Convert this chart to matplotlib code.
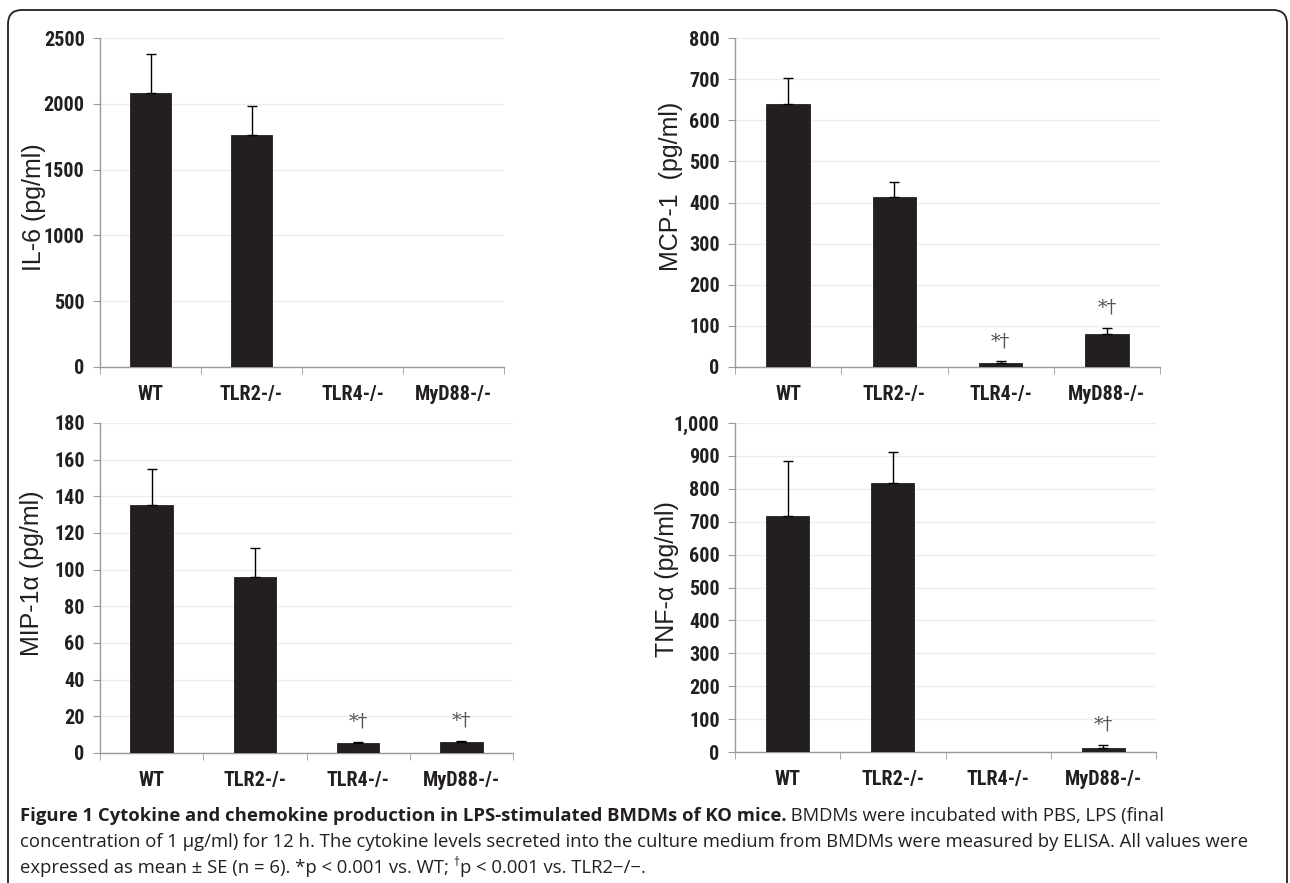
import matplotlib
matplotlib.use('Agg')
import matplotlib.pyplot as plt
import numpy as np
from matplotlib.patches import FancyBboxPatch
from matplotlib.transforms import IdentityTransform

W, H = 1290, 883

groups = ['WT', 'TLR2-/-', 'TLR4-/-', 'MyD88-/-']

# IL-6
il6_mean = [2082, 1765, 2, 2]
il6_se = [300, 220, 0, 0]
il6_sig = [False, False, False, False]

# MCP-1
mcp1_mean = [639, 413, 10, 80]
mcp1_se = [63, 37, 4, 16]
mcp1_sig = [False, False, True, True]

# MIP-1 alpha
mip1a_mean = [135.5, 96, 5.4, 5.8]
mip1a_se = [19.5, 16, 0.6, 1.0]
mip1a_sig = [False, False, True, True]

# TNF-alpha
tnfa_mean = [717, 819, 1, 11]
tnfa_se = [167, 93, 0, 11]
tnfa_sig = [False, False, False, True]

BAR = '#231f20'
AXIS = '#9a9a9a'
GRID = '#ededed'
TICKFONT = ['Roboto Condensed', 'Liberation Sans']
LABELFONT = ['Liberation Sans', 'DejaVu Sans']


def draw_panel(ax, means, errs, sig, ymax, step, ylabel, label_xy, comma=False):
    x = np.arange(len(groups))
    ax.bar(x, means, width=0.41, color=BAR, edgecolor=BAR, linewidth=0.6, zorder=3)
    for xi, m, e in zip(x, means, errs):
        if e > 0:
            ax.errorbar(xi, m, yerr=[[0], [e]], fmt='none', ecolor='black',
                        elinewidth=1, capsize=3.5, capthick=1, zorder=4)
    for xi, m, e, s in zip(x, means, errs, sig):
        if s:
            ax.annotate('*†', (xi, m + e), xytext=(0, 8), textcoords='offset points',
                        ha='center', va='bottom', fontsize=14, color='#555555',
                        family=['DejaVu Serif'])

    ax.set_xlim(-0.5, 3.5)
    ax.set_ylim(0, ymax)
    ticks = np.arange(0, ymax + step / 2, step)
    ax.set_yticks(ticks)
    if comma:
        ax.set_yticklabels([f'{t:,.0f}' for t in ticks])
    ax.set_xticks(x)
    ax.set_xticklabels(groups)
    ax.set_xticks(np.arange(-0.5, 4, 1), minor=True)
    ax.tick_params(axis='x', which='major', length=0, pad=13)
    ax.tick_params(axis='x', which='minor', length=5, color=AXIS)
    ax.tick_params(axis='y', length=5, color=AXIS, pad=6)
    for lab in ax.get_xticklabels() + ax.get_yticklabels():
        lab.set_family(TICKFONT)
        lab.set_fontweight('bold')
        lab.set_fontsize(14.5)
        lab.set_color('#231f20')

    ax.yaxis.grid(True, color=GRID, linewidth=1)
    ax.set_axisbelow(True)
    for side in ['top', 'right']:
        ax.spines[side].set_visible(False)
    for side in ['left', 'bottom']:
        ax.spines[side].set_color(AXIS)
        ax.spines[side].set_linewidth(1)

    ax.set_ylabel(ylabel, fontsize=18, family=LABELFONT, color='#231f20')
    ax.yaxis.set_label_coords(*label_xy)


fig = plt.figure(figsize=(W / 100, H / 100), dpi=100)

# rounded frame around figure + caption
frame = FancyBboxPatch((8, -30), 1279, H - 10 + 30,
                       boxstyle='round,pad=0,rounding_size=14',
                       transform=IdentityTransform(), facecolor='none',
                       edgecolor='#231f20', linewidth=1.3)
fig.patches.append(frame)


def axes_px(x0, x1, ytop, ybot):
    return fig.add_axes([x0 / W, 1 - ybot / H, (x1 - x0) / W, (ybot - ytop) / H])


ax1 = axes_px(100, 504, 38, 367)
ax2 = axes_px(735, 1160, 38, 367)
ax3 = axes_px(100, 513, 423, 753)
ax4 = axes_px(735, 1156, 423, 752)

draw_panel(ax1, il6_mean, il6_se, il6_sig, 2500, 500, 'IL-6 (pg/ml)', (-0.134, 0.486))
draw_panel(ax2, mcp1_mean, mcp1_se, mcp1_sig, 800, 100, 'MCP-1  (pg/ml)', (-0.122, 0.55))
draw_panel(ax3, mip1a_mean, mip1a_se, mip1a_sig, 180, 20, 'MIP-1α (pg/ml)', (-0.136, 0.545))
draw_panel(ax4, tnfa_mean, tnfa_se, tnfa_sig, 1000, 100, 'TNF-α (pg/ml)', (-0.133, 0.526),
           comma=True)

# caption, written in runs so bold and regular parts share a line
CAPFONT = ['Open Sans', 'DejaVu Sans']
CAPSIZE = 13.3
CAPCOLOR = '#231f20'
fig.canvas.draw()
renderer = fig.canvas.get_renderer()


def put_runs(y, runs, x0=20):
    x = x0
    for text, kw in runs:
        dy = kw.pop('dy', 0)
        t = fig.text(x / W, (H - y + dy) / H, text, va='baseline', ha='left',
                     family=CAPFONT, color=CAPCOLOR, **kw)
        x += t.get_window_extent(renderer).width


put_runs(821, [
    ('Figure 1 Cytokine and chemokine production in LPS-stimulated BMDMs of KO mice.',
     dict(fontsize=CAPSIZE, fontweight='bold')),
    (' BMDMs were incubated with PBS, LPS (final', dict(fontsize=CAPSIZE)),
])
put_runs(847, [
    ('concentration of 1 µg/ml) for 12 h. The cytokine levels secreted into the culture '
     'medium from BMDMs were measured by ELISA. All values were', dict(fontsize=CAPSIZE)),
])
put_runs(873, [
    ('expressed as mean ± SE (n = 6). *p < 0.001 vs. WT; ', dict(fontsize=CAPSIZE)),
    ('†', dict(fontsize=8.5, dy=7)),
    ('p < 0.001 vs. TLR2−/−.', dict(fontsize=CAPSIZE)),
])

fig.savefig('out.png', dpi=100)
